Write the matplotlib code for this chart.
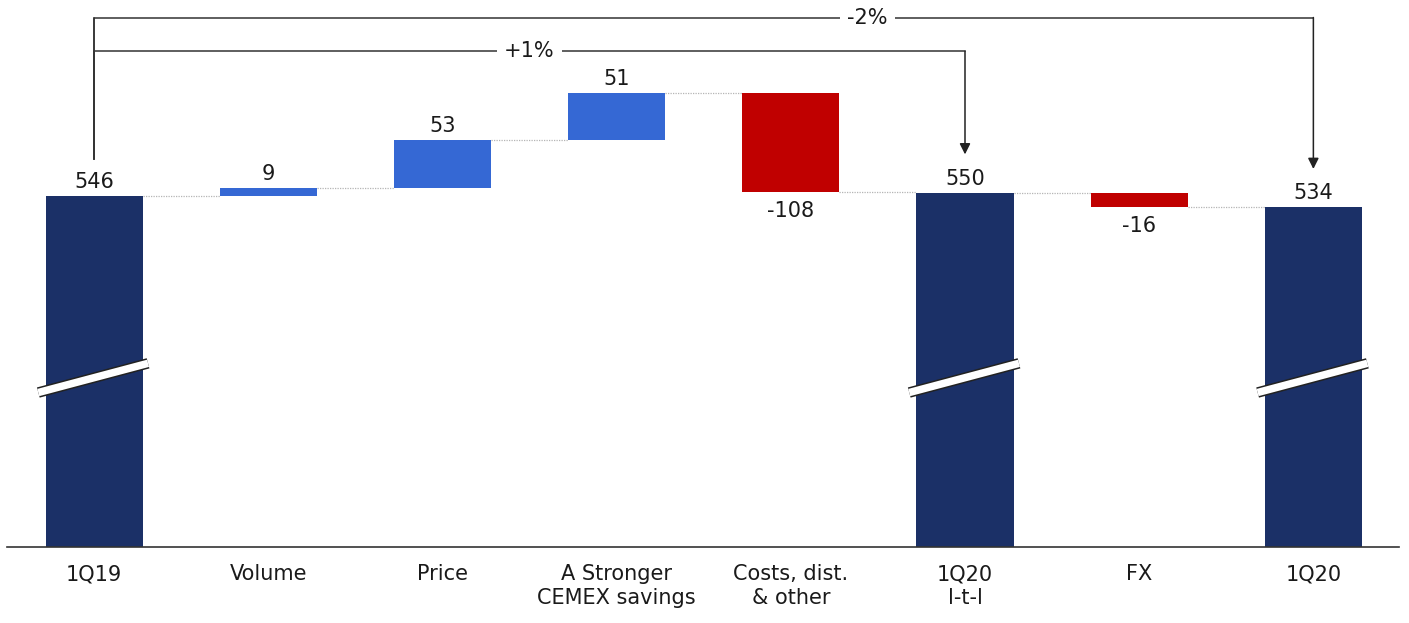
import matplotlib
matplotlib.use("Agg")
import matplotlib.pyplot as plt
import numpy as np

# data
categories = ["1Q19", "Volume", "Price", "A Stronger\nCEMEX savings",
              "Costs, dist.\n& other", "1Q20\nl-t-l", "FX", "1Q20"]
values = [546, 9, 53, 51, -108, 550, -16, 534]
is_total = [True, False, False, False, False, True, False, True]
pct_labels = ["+1%", "-2%"]

NAVY = "#1b3067"
BLUE = "#3568d4"
RED = "#c00000"
BASE = 162          # bottom of the broken axis
BREAK_Y = 347       # where the break marks cross the total bars
W = 0.557

plt.rcParams["font.family"] = "DejaVu Sans"
fig = plt.figure(figsize=(14.09, 6.23), dpi=100)
ax = fig.add_axes([0, 0, 1, 1])
ax.set_xlim(-0.54, 7.549)
ax.set_ylim(78.4, 761.2)
ax.axis("off")

x = np.arange(len(categories))
running = 0
levels = []
for i, (v, tot) in enumerate(zip(values, is_total)):
    if tot:
        bottom, top = BASE, v
        color = NAVY
        running = v
    else:
        bottom, top = running, running + v
        color = BLUE if v > 0 else RED
        running += v
    ax.bar(x[i], top - bottom, bottom=bottom, width=W, color=color,
           edgecolor="none", zorder=2)
    levels.append(running)

    label = f"{v}"
    if v >= 0 or tot:
        ax.annotate(label, (x[i], max(top, bottom)), xytext=(0, 3),
                    textcoords="offset points", ha="center", va="bottom",
                    fontsize=15, color="#1a1a1a")
    else:
        ax.annotate(label, (x[i], min(top, bottom)), xytext=(0, -6.5),
                    textcoords="offset points", ha="center", va="top",
                    fontsize=15, color="#1a1a1a")

    ax.annotate(categories[i], (x[i], BASE), xytext=(0, -12.5),
                textcoords="offset points", ha="center", va="top",
                fontsize=15, color="#1a1a1a", linespacing=1.25)

    # break marks on total bars
    if tot:
        xs = [x[i] - 0.32, x[i] + 0.31]
        ys = [BREAK_Y - 16, BREAK_Y + 16]
        ax.plot(xs, ys, color="#222222", lw=7.6, solid_capstyle="butt", zorder=3)
        ax.plot(xs, ys, color="white", lw=5.4, solid_capstyle="butt", zorder=4)

# connectors
for i in range(len(values) - 1):
    ax.plot([x[i] + W / 2, x[i + 1] - W / 2], [levels[i], levels[i]],
            color="#b5b5b5", lw=0.9, ls=(0, (1, 1)), zorder=1)

# baseline
ax.plot([-0.5, 7.49], [BASE, BASE], color="#333333", lw=1.2, zorder=5)

# brackets with percentage changes
line_kw = dict(color="#333333", lw=1.1)
start_y = values[0] + 41
bracket_y = [705, 742]
targets = [5, 7]
for lbl, by, t in zip(pct_labels, bracket_y, targets):
    ax.plot([x[0], x[0], x[t]], [start_y, by, by], **line_kw, zorder=6)
    ax.annotate("", xy=(x[t], values[t] + 42), xytext=(x[t], by),
                arrowprops=dict(arrowstyle="-|>", color="#222222", lw=1.1,
                                mutation_scale=16, shrinkA=0, shrinkB=0),
                zorder=6)
ax.plot([x[0], x[0]], [start_y, bracket_y[1]], **line_kw, zorder=6)

ax.text(2.5, bracket_y[0], pct_labels[0], ha="center", va="center",
        fontsize=15, color="#1a1a1a", zorder=7,
        bbox=dict(facecolor="white", edgecolor="none", pad=5))
ax.text(4.44, bracket_y[1], pct_labels[1], ha="center", va="center",
        fontsize=15, color="#1a1a1a", zorder=7,
        bbox=dict(facecolor="white", edgecolor="none", pad=5))

fig.savefig("out.png", dpi=100)
